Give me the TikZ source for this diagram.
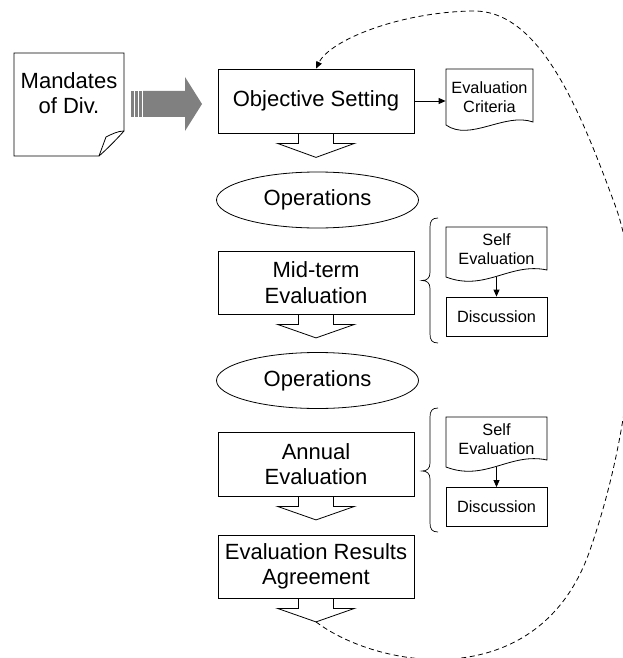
\documentclass[tikz,border=0pt]{standalone}
\usepackage{fontspec}
\setmainfont{Liberation Sans}
\usetikzlibrary{arrows.meta,shapes.geometric}
\begin{document}
\begin{tikzpicture}[x=1pt,y=-1pt,line width=0.8pt,line join=miter,
  bigtext/.style={font=\fontsize{22}{25.5}\selectfont,align=center},
  smalltext/.style={font=\fontsize{16.3}{18.7}\selectfont,align=center},
  stepbox/.style={draw,bigtext,minimum width=196pt,minimum height=64pt,inner sep=0pt},
  opbubble/.style={draw,ellipse,bigtext,minimum width=202pt,minimum height=56pt,inner sep=0pt},
  docarea/.style={smalltext,inner sep=0pt},
  discbox/.style={draw,smalltext,minimum width=101pt,minimum height=39pt,inner sep=0pt},
  tiparrow/.style={-{Triangle[length=7pt,width=6pt]}},
  bracket/.style={line width=0.7pt},
  loopline/.style={dash pattern=on 5pt off 3.5pt,-{Triangle[length=7pt,width=6pt]}},
  blockfill/.style={fill=black!50,draw=none}
]
\useasboundingbox (0,0) rectangle (622,658);

% ---- mandates document with curled corner ----
\draw[fill=white] (14,53) -- (124,53) -- (124,131)
  .. controls (116,140) and (106,150) .. (99,156) -- (14,156) -- cycle;
\draw (99,156) -- (106,137) .. controls (112,134) and (118,131) .. (124,131);
\node[bigtext,inner sep=0pt] (mand) at (69,93) {Mandates\\of Div.};

% ---- grey block arrow ----
\fill[blockfill] (131,91) rectangle (133.5,117);
\fill[blockfill] (135,91) rectangle (137.5,117);
\fill[blockfill] (139,91) rectangle (141.5,117);
\fill[blockfill] (143,91) -- (185,91) -- (185,77) -- (202,104) -- (185,131)
  -- (185,117) -- (143,117) -- cycle;

% ---- main column ----
\node[stepbox] (obj) at (316,101) {Objective Setting};
\node[opbubble] (ops1) at (317.5,200) {Operations};
\node[stepbox,minimum height=63pt] (mid) at (316,282.5) {Mid-term\\Evaluation};
\node[opbubble] (ops2) at (317.5,380.5) {Operations};
\node[stepbox] (ann) at (316,464) {Annual\\Evaluation};
\node[stepbox,minimum height=63pt] (era) at (316,566.5) {Evaluation Results\\Agreement};

% hollow down arrows under each step
\draw (obj.south) ++(-17.5,0) -- ++(0,10) -- ++(-21,0) -- ++(38.5,14) coordinate (objtip)
  -- ++(38.5,-14) -- ++(-21,0) -- ++(0,-10);
\draw (mid.south) ++(-17.5,0) -- ++(0,10) -- ++(-21,0) -- ++(38.5,13.5) coordinate (midtip)
  -- ++(38.5,-13.5) -- ++(-21,0) -- ++(0,-10);
\draw (ann.south) ++(-17.5,0) -- ++(0,10) -- ++(-21,0) -- ++(38.5,13.5) coordinate (anntip)
  -- ++(38.5,-13.5) -- ++(-21,0) -- ++(0,-10);
\draw (era.south) ++(-17.5,0) -- ++(0,10) -- ++(-21,0) -- ++(38.5,13.5) coordinate (eratip)
  -- ++(38.5,-13.5) -- ++(-21,0) -- ++(0,-10);

% ---- evaluation criteria document ----
\draw (446,69) -- (533,69) -- (533,122) .. controls (505,112) and (470,142) .. (446,125) -- cycle;
\node[docarea,minimum width=87pt,minimum height=56pt] (crit) at (489.5,97) {Evaluation\\Criteria};
\draw[tiparrow] (obj.east) -- (obj.east -| crit.west);

% ---- mid-term side group ----
\draw[bracket] (438,218) .. controls (432,218) and (430,221) .. (430,227) -- (430,272.5)
  .. controls (430,278) and (427,280.5) .. (422,280.5)
  .. controls (427,280.5) and (430,283) .. (430,288.5) -- (430,334)
  .. controls (430,340) and (432,343) .. (438,343);
\draw (446,227) -- (547,227) -- (547,270) .. controls (510,262) and (485,292) .. (446,277) -- cycle;
\node[docarea,minimum width=101pt,minimum height=56pt] (self1) at (496.5,249) {Self\\Evaluation};
\node[discbox] (disc1) at (496.5,316.5) {Discussion};
\draw[tiparrow] (self1.south) -- (disc1.north);

% ---- annual side group ----
\draw[bracket] (438,408) .. controls (432,408) and (430,411) .. (430,417) -- (430,463)
  .. controls (430,468.5) and (427,471) .. (422,471)
  .. controls (427,471) and (430,473.5) .. (430,479) -- (430,523)
  .. controls (430,529) and (432,532) .. (438,532);
\draw (446,417) -- (547,417) -- (547,460) .. controls (510,452) and (485,482) .. (446,467) -- cycle;
\node[docarea,minimum width=101pt,minimum height=56pt] (self2) at (496.5,439) {Self\\Evaluation};
\node[discbox] (disc2) at (496.5,507) {Discussion};
\draw[tiparrow] (self2.south) -- (disc2.north);

% ---- feedback loop back to objective setting ----
\draw[loopline] (eratip) .. controls (380,670) and (540,695) .. (590,550)
  .. controls (625,450) and (650,300) .. (615,205)
  .. controls (580,110) and (540,10) .. (473,11)
  .. controls (400,12) and (330,40) .. (obj.north);
\end{tikzpicture}
\end{document}
